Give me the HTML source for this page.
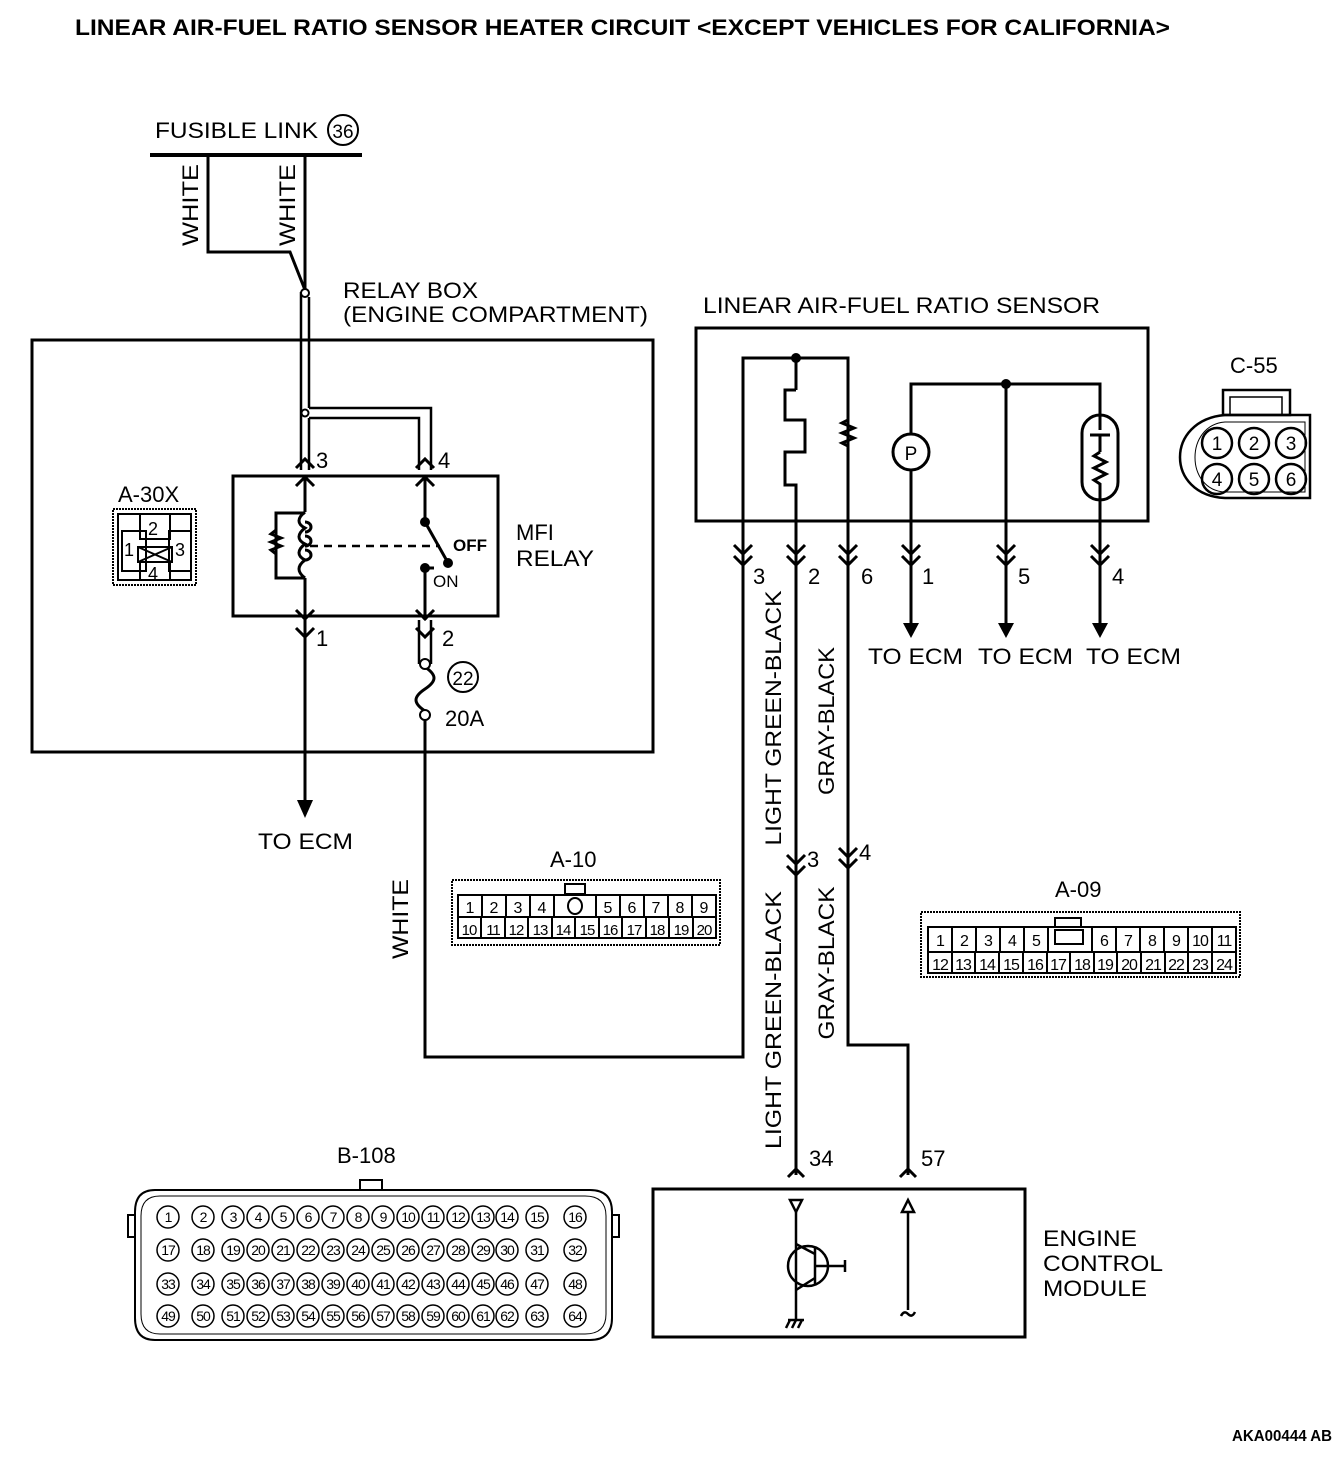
<!DOCTYPE html>
<html><head><meta charset="utf-8"><style>
html,body{margin:0;padding:0;background:#fff}
svg{display:block}
text{font-family:"Liberation Sans",sans-serif;fill:#000}
</style></head><body>
<svg width="1344" height="1458" viewBox="0 0 1344 1458" xmlns="http://www.w3.org/2000/svg">
<g font-size="22">
<text x="75" y="35" font-weight="bold" font-size="22" textLength="1095" lengthAdjust="spacingAndGlyphs">LINEAR AIR-FUEL RATIO SENSOR HEATER CIRCUIT &lt;EXCEPT VEHICLES FOR CALIFORNIA&gt;</text>

<!-- fusible link -->
<text x="155" y="138" textLength="163" lengthAdjust="spacingAndGlyphs">FUSIBLE LINK</text>
<circle cx="343" cy="130" r="15" fill="none" stroke="#000" stroke-width="2"/>
<text x="343" y="138" text-anchor="middle" font-size="19">36</text>
<line x1="150" y1="155" x2="362" y2="155" stroke="#000" stroke-width="4"/>
<g fill="none" stroke="#000" stroke-width="3">
<polyline points="208,155 208,252 290,252 305,290"/>
<line x1="305" y1="155" x2="305" y2="290"/>
</g>
<text transform="translate(198,205) rotate(-90)" text-anchor="middle" textLength="82" lengthAdjust="spacingAndGlyphs">WHITE</text>
<text transform="translate(295,205) rotate(-90)" text-anchor="middle" textLength="82" lengthAdjust="spacingAndGlyphs">WHITE</text>

<!-- relay box -->
<text x="343" y="298" textLength="135" lengthAdjust="spacingAndGlyphs">RELAY BOX</text>
<text x="343" y="322" textLength="305" lengthAdjust="spacingAndGlyphs">(ENGINE COMPARTMENT)</text>
<rect x="32" y="340" width="621" height="412" fill="none" stroke="#000" stroke-width="3"/>
<g fill="none" stroke="#000" stroke-width="2.5">
<line x1="301" y1="292" x2="301" y2="470"/>
<line x1="309" y1="297" x2="309" y2="408"/>
<line x1="309" y1="418" x2="309" y2="470"/>
<polyline points="309,408 431,408 431,470"/>
<polyline points="309,418 419,418 419,470"/>
<line x1="419" y1="620" x2="419" y2="664"/>
<line x1="431" y1="620" x2="431" y2="664"/>
</g>
<circle cx="305" cy="293" r="4" fill="#fff" stroke="#000" stroke-width="2"/>
<circle cx="305" cy="413" r="3.5" fill="#fff" stroke="#000" stroke-width="2"/>
<text x="316" y="468">3</text><text x="438" y="468">4</text>
<rect x="233" y="476" width="265" height="140" fill="none" stroke="#000" stroke-width="3"/>
<g fill="none" stroke="#000" stroke-width="3">
<polyline points="296,468 305,459 314,468"/><polyline points="296,486 305,477 314,486"/>
<polyline points="416,468 425,459 434,468"/><polyline points="416,486 425,477 434,486"/>
<polyline points="296,610 305,619 314,610"/><polyline points="296,628 305,637 314,628"/>
<polyline points="416,610 425,619 434,610"/><polyline points="416,628 425,637 434,628"/>
<line x1="305" y1="476" x2="305" y2="512"/>
<line x1="305" y1="578" x2="305" y2="800"/>
<path d="M305,512 c-8,6 -8,12 0,16 c-8,6 -8,12 0,16 c-8,6 -8,12 0,16 c-8,6 -8,12 0,18"/>
<path d="M305,522 a6,5 0 1 1 0,10 M305,536 a6,5 0 1 1 0,10 M305,550 a6,5 0 1 1 0,10"/>
<polyline points="305,513 276,513 276,578 305,578"/>
<polyline points="276,530 271,534 281,538 271,542 281,546 271,550 276,554"/>
<line x1="425" y1="476" x2="425" y2="522"/>
<line x1="425" y1="522" x2="447" y2="561"/>
<line x1="425" y1="568" x2="425" y2="616"/>
<line x1="425" y1="568" x2="434" y2="568"/>
<line x1="425" y1="616" x2="425" y2="620"/>
<line x1="310" y1="546" x2="440" y2="546" stroke-dasharray="8,6" stroke-width="2.5"/>
<path d="M425,667 c12,8 12,14 0,22 c-12,8 -12,14 0,22"/>
<polyline points="425,719 425,1057 743,1057 743,358 848,358 848,1045 908,1045 908,1175"/>
<line x1="796" y1="358" x2="796" y2="390"/>
<polyline points="796,390 785,390 785,420 805,420 805,452 785,452 785,485 796,485 796,1175"/>
<line x1="848" y1="358" x2="848" y2="420"/>
<polyline points="848,420 842,423 854,428 842,433 854,438 842,443 848,446"/>
<polyline points="911,434 911,384 1100,384 1100,430"/>
<line x1="911" y1="470" x2="911" y2="625"/>
<line x1="1006" y1="384" x2="1006" y2="625"/>
<line x1="1100" y1="500" x2="1100" y2="625"/>
<line x1="1090" y1="435" x2="1110" y2="435"/>
<line x1="1100" y1="435" x2="1100" y2="452"/>
<polyline points="1100,452 1094,456 1106,462 1094,468 1106,474 1094,480 1100,484 1100,500"/>
</g>
<circle cx="425" cy="522" r="5" fill="#000"/>
<circle cx="448" cy="563" r="5" fill="#000"/>
<circle cx="425" cy="568" r="5" fill="#000"/>
<circle cx="425" cy="664" r="5" fill="#fff" stroke="#000" stroke-width="2"/>
<circle cx="425" cy="715" r="5" fill="#fff" stroke="#000" stroke-width="2"/>
<text x="453" y="551" font-size="17" font-weight="bold">OFF</text>
<text x="433" y="587" font-size="17">ON</text>
<text x="516" y="540">MFI</text><text x="516" y="566" textLength="78" lengthAdjust="spacingAndGlyphs">RELAY</text>
<text x="316" y="646">1</text><text x="442" y="646">2</text>
<circle cx="463" cy="677" r="15" fill="none" stroke="#000" stroke-width="2"/>
<text x="463" y="685" text-anchor="middle" font-size="19">22</text>
<text x="445" y="726">20A</text>
<polygon points="297,800 313,800 305,818" fill="#000"/>
<text x="258" y="849" textLength="95" lengthAdjust="spacingAndGlyphs">TO ECM</text>
<text transform="translate(408,919) rotate(-90)" text-anchor="middle" textLength="80" lengthAdjust="spacingAndGlyphs">WHITE</text>

<!-- A-30X -->
<text x="118" y="502">A-30X</text>
<g fill="none" stroke="#000" stroke-width="2">
<rect x="113" y="509" width="83" height="76" stroke-dasharray="2,1"/>
<rect x="118" y="514" width="73" height="66"/>
<rect x="140" y="514" width="30" height="25"/>
<rect x="122" y="531" width="24" height="40"/>
<rect x="169" y="531" width="22" height="40"/>
<rect x="138" y="547" width="34" height="15"/>
<rect x="140" y="562" width="30" height="18"/>
<line x1="138" y1="547" x2="172" y2="562"/><line x1="172" y1="547" x2="138" y2="562"/>
</g>
<text x="148" y="535" font-size="18">2</text><text x="124" y="556" font-size="18">1</text>
<text x="175" y="556" font-size="18">3</text><text x="148" y="580" font-size="18">4</text>

<!-- sensor -->
<text x="703" y="313" textLength="397" lengthAdjust="spacingAndGlyphs">LINEAR AIR-FUEL RATIO SENSOR</text>
<rect x="696" y="328" width="452" height="193" fill="none" stroke="#000" stroke-width="3"/>
<circle cx="796" cy="358" r="5" fill="#000"/>
<circle cx="1006" cy="384" r="5" fill="#000"/>
<circle cx="911" cy="452" r="18" fill="#fff" stroke="#000" stroke-width="3"/>
<text x="911" y="460" text-anchor="middle" font-size="19">P</text>
<rect x="1082" y="415" width="36" height="85" rx="18" fill="none" stroke="#000" stroke-width="3"/>
<g fill="none" stroke="#000" stroke-width="3">
<polyline points="734,545 743,554 752,545"/><polyline points="734,556 743,565 752,556"/>
<polyline points="787,545 796,554 805,545"/><polyline points="787,556 796,565 805,556"/>
<polyline points="839,545 848,554 857,545"/><polyline points="839,556 848,565 857,556"/>
<polyline points="902,545 911,554 920,545"/><polyline points="902,556 911,565 920,556"/>
<polyline points="997,545 1006,554 1015,545"/><polyline points="997,556 1006,565 1015,556"/>
<polyline points="1091,545 1100,554 1109,545"/><polyline points="1091,556 1100,565 1109,556"/>
<polyline points="787,855 796,864 805,855"/><polyline points="787,866 796,875 805,866"/>
<polyline points="839,848 848,857 857,848"/><polyline points="839,859 848,868 857,859"/>
<polyline points="788,1177 796,1169 804,1177"/>
<polyline points="900,1177 908,1169 916,1177"/>
</g>
<polygon points="903,623 919,623 911,638" fill="#000"/>
<polygon points="998,623 1014,623 1006,638" fill="#000"/>
<polygon points="1092,623 1108,623 1100,638" fill="#000"/>
<text x="753" y="584">3</text><text x="808" y="584">2</text><text x="861" y="584">6</text>
<text x="922" y="584">1</text><text x="1018" y="584">5</text><text x="1112" y="584">4</text>
<text x="868" y="664" textLength="95" lengthAdjust="spacingAndGlyphs">TO ECM</text><text x="978" y="664" textLength="95" lengthAdjust="spacingAndGlyphs">TO ECM</text><text x="1086" y="664" textLength="95" lengthAdjust="spacingAndGlyphs">TO ECM</text>
<text transform="translate(781,718) rotate(-90)" text-anchor="middle" textLength="255" lengthAdjust="spacingAndGlyphs">LIGHT GREEN-BLACK</text>
<text transform="translate(834,721) rotate(-90)" text-anchor="middle" textLength="148" lengthAdjust="spacingAndGlyphs">GRAY-BLACK</text>
<text transform="translate(781,1020) rotate(-90)" text-anchor="middle" textLength="258" lengthAdjust="spacingAndGlyphs">LIGHT GREEN-BLACK</text>
<text transform="translate(834,963) rotate(-90)" text-anchor="middle" textLength="153" lengthAdjust="spacingAndGlyphs">GRAY-BLACK</text>
<text x="807" y="867">3</text><text x="859" y="860">4</text>

<!-- C-55 -->
<text x="1230" y="373">C-55</text>
<g fill="none" stroke="#000" stroke-width="2.5">
<rect x="1223" y="390" width="67" height="25"/>
<rect x="1230" y="397" width="52" height="18" stroke-width="1.5"/>
<path d="M1310,415 L1225,415 C1165,420 1165,495 1225,498 L1310,498 Z"/>
<path d="M1305,422 L1225,422 C1185,425 1185,490 1225,492 L1305,492 Z" stroke-width="1"/>
<circle cx="1217" cy="443" r="15"/><circle cx="1254" cy="443" r="15"/><circle cx="1291" cy="443" r="15"/>
<circle cx="1217" cy="479" r="15"/><circle cx="1254" cy="479" r="15"/><circle cx="1291" cy="479" r="15"/>
</g>
<g font-size="19" text-anchor="middle">
<text x="1217" y="450">1</text><text x="1254" y="450">2</text><text x="1291" y="450">3</text>
<text x="1217" y="486">4</text><text x="1254" y="486">5</text><text x="1291" y="486">6</text>
</g>

<!-- A-10 -->
<text x="550" y="867">A-10</text>
<g fill="none" stroke="#000" stroke-width="2">
<rect x="452" y="880" width="268" height="65" stroke-dasharray="2,1"/>
<rect x="458" y="895" width="258" height="43"/>
<line x1="458" y1="917" x2="716" y2="917"/>
<rect x="565" y="884" width="20" height="10"/>
<line x1="482" y1="895" x2="482" y2="917"/><line x1="506" y1="895" x2="506" y2="917"/><line x1="530" y1="895" x2="530" y2="917"/><line x1="554" y1="895" x2="554" y2="917"/>
<line x1="596" y1="895" x2="596" y2="917"/><line x1="620" y1="895" x2="620" y2="917"/><line x1="644" y1="895" x2="644" y2="917"/><line x1="668" y1="895" x2="668" y2="917"/><line x1="692" y1="895" x2="692" y2="917"/>
<ellipse cx="575" cy="906" rx="7" ry="8"/>
</g>
<g stroke="#000" stroke-width="2">
<line x1="481" y1="917" x2="481" y2="938"/><line x1="505" y1="917" x2="505" y2="938"/><line x1="528" y1="917" x2="528" y2="938"/><line x1="552" y1="917" x2="552" y2="938"/><line x1="575" y1="917" x2="575" y2="938"/><line x1="599" y1="917" x2="599" y2="938"/><line x1="622" y1="917" x2="622" y2="938"/><line x1="646" y1="917" x2="646" y2="938"/><line x1="669" y1="917" x2="669" y2="938"/><line x1="693" y1="917" x2="693" y2="938"/>
</g>
<g font-size="16" text-anchor="middle">
<text x="470" y="913">1</text><text x="494" y="913">2</text><text x="518" y="913">3</text><text x="542" y="913">4</text>
<text x="608" y="913">5</text><text x="632" y="913">6</text><text x="656" y="913">7</text><text x="680" y="913">8</text><text x="704" y="913">9</text>
</g>
<g font-size="15" text-anchor="middle" letter-spacing="-1">
<text x="469" y="935">10</text><text x="493" y="935">11</text><text x="516" y="935">12</text><text x="540" y="935">13</text><text x="563" y="935">14</text><text x="587" y="935">15</text><text x="610" y="935">16</text><text x="634" y="935">17</text><text x="657" y="935">18</text><text x="681" y="935">19</text><text x="704" y="935">20</text>
</g>

<!-- A-09 -->
<text x="1055" y="897">A-09</text>
<g fill="none" stroke="#000" stroke-width="2">
<rect x="921" y="912" width="319" height="65" stroke-dasharray="2,1"/>
<rect x="928" y="927" width="308" height="46"/>
<line x1="928" y1="952" x2="1236" y2="952"/>
<rect x="1055" y="918" width="26" height="9"/>
<rect x="1055" y="930" width="28" height="14"/>
<line x1="952" y1="927" x2="952" y2="952"/><line x1="976" y1="927" x2="976" y2="952"/><line x1="1000" y1="927" x2="1000" y2="952"/><line x1="1024" y1="927" x2="1024" y2="952"/><line x1="1048" y1="927" x2="1048" y2="952"/>
<line x1="1092" y1="927" x2="1092" y2="952"/><line x1="1116" y1="927" x2="1116" y2="952"/><line x1="1140" y1="927" x2="1140" y2="952"/><line x1="1164" y1="927" x2="1164" y2="952"/><line x1="1188" y1="927" x2="1188" y2="952"/><line x1="1212" y1="927" x2="1212" y2="952"/>
<line x1="952" y1="952" x2="952" y2="973"/><line x1="975" y1="952" x2="975" y2="973"/><line x1="999" y1="952" x2="999" y2="973"/><line x1="1023" y1="952" x2="1023" y2="973"/><line x1="1047" y1="952" x2="1047" y2="973"/><line x1="1070" y1="952" x2="1070" y2="973"/><line x1="1094" y1="952" x2="1094" y2="973"/><line x1="1117" y1="952" x2="1117" y2="973"/><line x1="1141" y1="952" x2="1141" y2="973"/><line x1="1165" y1="952" x2="1165" y2="973"/><line x1="1188" y1="952" x2="1188" y2="973"/><line x1="1212" y1="952" x2="1212" y2="973"/>
</g>
<g font-size="16" text-anchor="middle" letter-spacing="-1">
<text x="940" y="946">1</text><text x="964" y="946">2</text><text x="988" y="946">3</text><text x="1012" y="946">4</text><text x="1036" y="946">5</text>
<text x="1104" y="946">6</text><text x="1128" y="946">7</text><text x="1152" y="946">8</text><text x="1176" y="946">9</text><text x="1200" y="946">10</text><text x="1224" y="946">11</text>
<text x="940" y="970">12</text><text x="963" y="970">13</text><text x="987" y="970">14</text><text x="1011" y="970">15</text><text x="1035" y="970">16</text><text x="1058" y="970">17</text><text x="1082" y="970">18</text><text x="1105" y="970">19</text><text x="1129" y="970">20</text><text x="1153" y="970">21</text><text x="1176" y="970">22</text><text x="1200" y="970">23</text><text x="1224" y="970">24</text>
</g>

<!-- B-108 -->
<text x="337" y="1163">B-108</text>
<g fill="none" stroke="#000" stroke-width="2">
<rect x="360" y="1180" width="22" height="10"/>
<path d="M155,1190 L590,1190 Q612,1190 612,1212 L612,1318 Q612,1340 590,1340 L155,1340 Q135,1340 135,1318 L135,1212 Q135,1190 155,1190 Z"/>
<path d="M160,1196 L585,1196 Q606,1196 606,1216 L606,1314 Q606,1334 585,1334 L160,1334 Q141,1334 141,1314 L141,1216 Q141,1196 160,1196 Z" stroke-width="1"/>
<rect x="128" y="1215" width="7" height="22"/><rect x="612" y="1215" width="7" height="22"/>
</g>
<g fill="none" stroke="#000" stroke-width="1.5">
<circle cx="168" cy="1217" r="11"/><circle cx="203" cy="1217" r="11"/><circle cx="233" cy="1217" r="11"/><circle cx="258" cy="1217" r="11"/><circle cx="283" cy="1217" r="11"/><circle cx="308" cy="1217" r="11"/><circle cx="333" cy="1217" r="11"/><circle cx="358" cy="1217" r="11"/><circle cx="383" cy="1217" r="11"/><circle cx="408" cy="1217" r="11"/><circle cx="433" cy="1217" r="11"/><circle cx="458" cy="1217" r="11"/><circle cx="483" cy="1217" r="11"/><circle cx="507" cy="1217" r="11"/><circle cx="537" cy="1217" r="11"/><circle cx="575" cy="1217" r="11"/>
<circle cx="168" cy="1250" r="11"/><circle cx="203" cy="1250" r="11"/><circle cx="233" cy="1250" r="11"/><circle cx="258" cy="1250" r="11"/><circle cx="283" cy="1250" r="11"/><circle cx="308" cy="1250" r="11"/><circle cx="333" cy="1250" r="11"/><circle cx="358" cy="1250" r="11"/><circle cx="383" cy="1250" r="11"/><circle cx="408" cy="1250" r="11"/><circle cx="433" cy="1250" r="11"/><circle cx="458" cy="1250" r="11"/><circle cx="483" cy="1250" r="11"/><circle cx="507" cy="1250" r="11"/><circle cx="537" cy="1250" r="11"/><circle cx="575" cy="1250" r="11"/>
<circle cx="168" cy="1284" r="11"/><circle cx="203" cy="1284" r="11"/><circle cx="233" cy="1284" r="11"/><circle cx="258" cy="1284" r="11"/><circle cx="283" cy="1284" r="11"/><circle cx="308" cy="1284" r="11"/><circle cx="333" cy="1284" r="11"/><circle cx="358" cy="1284" r="11"/><circle cx="383" cy="1284" r="11"/><circle cx="408" cy="1284" r="11"/><circle cx="433" cy="1284" r="11"/><circle cx="458" cy="1284" r="11"/><circle cx="483" cy="1284" r="11"/><circle cx="507" cy="1284" r="11"/><circle cx="537" cy="1284" r="11"/><circle cx="575" cy="1284" r="11"/>
<circle cx="168" cy="1316" r="11"/><circle cx="203" cy="1316" r="11"/><circle cx="233" cy="1316" r="11"/><circle cx="258" cy="1316" r="11"/><circle cx="283" cy="1316" r="11"/><circle cx="308" cy="1316" r="11"/><circle cx="333" cy="1316" r="11"/><circle cx="358" cy="1316" r="11"/><circle cx="383" cy="1316" r="11"/><circle cx="408" cy="1316" r="11"/><circle cx="433" cy="1316" r="11"/><circle cx="458" cy="1316" r="11"/><circle cx="483" cy="1316" r="11"/><circle cx="507" cy="1316" r="11"/><circle cx="537" cy="1316" r="11"/><circle cx="575" cy="1316" r="11"/>
</g>
<g font-size="14" text-anchor="middle" letter-spacing="-1">
<text x="168" y="1222">1</text><text x="203" y="1222">2</text><text x="233" y="1222">3</text><text x="258" y="1222">4</text><text x="283" y="1222">5</text><text x="308" y="1222">6</text><text x="333" y="1222">7</text><text x="358" y="1222">8</text><text x="383" y="1222">9</text><text x="408" y="1222">10</text><text x="433" y="1222">11</text><text x="458" y="1222">12</text><text x="483" y="1222">13</text><text x="507" y="1222">14</text><text x="537" y="1222">15</text><text x="575" y="1222">16</text>
<text x="168" y="1255">17</text><text x="203" y="1255">18</text><text x="233" y="1255">19</text><text x="258" y="1255">20</text><text x="283" y="1255">21</text><text x="308" y="1255">22</text><text x="333" y="1255">23</text><text x="358" y="1255">24</text><text x="383" y="1255">25</text><text x="408" y="1255">26</text><text x="433" y="1255">27</text><text x="458" y="1255">28</text><text x="483" y="1255">29</text><text x="507" y="1255">30</text><text x="537" y="1255">31</text><text x="575" y="1255">32</text>
<text x="168" y="1289">33</text><text x="203" y="1289">34</text><text x="233" y="1289">35</text><text x="258" y="1289">36</text><text x="283" y="1289">37</text><text x="308" y="1289">38</text><text x="333" y="1289">39</text><text x="358" y="1289">40</text><text x="383" y="1289">41</text><text x="408" y="1289">42</text><text x="433" y="1289">43</text><text x="458" y="1289">44</text><text x="483" y="1289">45</text><text x="507" y="1289">46</text><text x="537" y="1289">47</text><text x="575" y="1289">48</text>
<text x="168" y="1321">49</text><text x="203" y="1321">50</text><text x="233" y="1321">51</text><text x="258" y="1321">52</text><text x="283" y="1321">53</text><text x="308" y="1321">54</text><text x="333" y="1321">55</text><text x="358" y="1321">56</text><text x="383" y="1321">57</text><text x="408" y="1321">58</text><text x="433" y="1321">59</text><text x="458" y="1321">60</text><text x="483" y="1321">61</text><text x="507" y="1321">62</text><text x="537" y="1321">63</text><text x="575" y="1321">64</text>
</g>

<!-- ECM -->
<text x="809" y="1166">34</text><text x="921" y="1166">57</text>
<rect x="653" y="1189" width="372" height="148" fill="none" stroke="#000" stroke-width="3"/>
<g fill="none" stroke="#000" stroke-width="2.5">
<polygon points="790,1200 802,1200 796,1212"/>
<line x1="796" y1="1212" x2="796" y2="1320"/>
<circle cx="808" cy="1266" r="20"/>
<line x1="815" y1="1248" x2="815" y2="1284"/>
<line x1="815" y1="1266" x2="845" y2="1266"/><line x1="845" y1="1260" x2="845" y2="1272"/>
<line x1="815" y1="1254" x2="796" y2="1244"/><line x1="815" y1="1278" x2="796" y2="1290"/>
<line x1="788" y1="1320" x2="804" y2="1320"/>
<line x1="790" y1="1320" x2="786" y2="1328"/><line x1="796" y1="1320" x2="792" y2="1328"/><line x1="802" y1="1320" x2="798" y2="1328"/>
<polygon points="902,1212 914,1212 908,1200"/>
<line x1="908" y1="1212" x2="908" y2="1310"/>
<path d="M901,1316 q3,-6 7,-2 q4,4 7,-2"/>
</g>
<text x="1043" y="1246" textLength="94" lengthAdjust="spacingAndGlyphs">ENGINE</text><text x="1043" y="1271" textLength="120" lengthAdjust="spacingAndGlyphs">CONTROL</text><text x="1043" y="1296" textLength="104" lengthAdjust="spacingAndGlyphs">MODULE</text>

<text x="1232" y="1441" font-weight="bold" font-size="16" textLength="100" lengthAdjust="spacingAndGlyphs">AKA00444 AB</text>
</g>
</svg>
</body></html>
